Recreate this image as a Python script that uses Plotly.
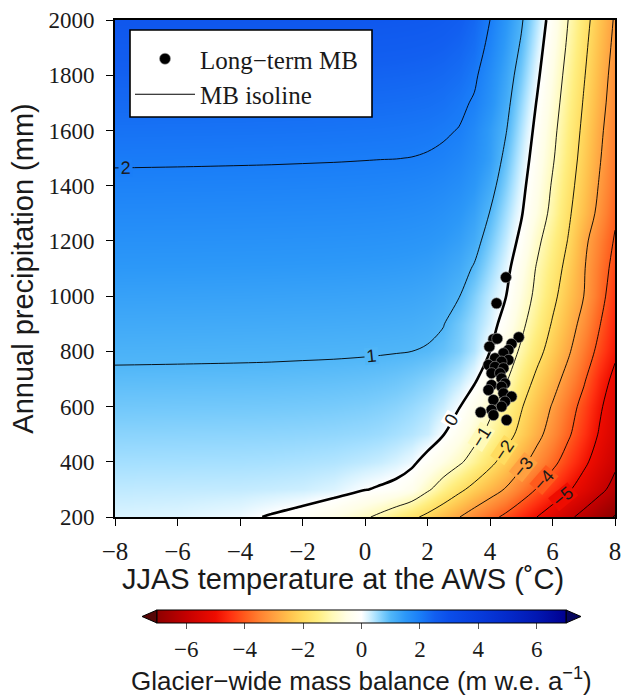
import math
import plotly.graph_objects as go

# ---- grid of the mass-balance sensitivity field ----
temperature = [-8, -6, -4, -3, -2, -1, 0, 0.5, 1, 1.5, 2, 2.5, 3, 3.5, 4,
               4.5, 5, 5.5, 6, 6.5, 7, 7.5, 8]
precipitation = [200, 300, 400, 500, 600, 700, 800, 900, 1000, 1100, 1200,
                 1300, 1400, 1500, 1600, 1700, 1800, 1900, 2000]

# glacier-wide mass balance (m w.e. a-1), one row per precipitation level
mass_balance = [
    [0.23, 0.20, 0.10, -0.04, -0.20, -0.48, -0.90, -1.17, -1.50, -1.83, -2.19, -2.58, -2.97, -3.38, -3.77, -4.16, -4.58, -5.00, -5.42, -5.83, -6.25, -6.65, -7.05],
    [0.37, 0.36, 0.35, 0.33, 0.30, 0.22, 0.02, -0.06, -0.15, -0.37, -0.89, -1.36, -1.82, -2.24, -2.64, -3.05, -3.55, -4.04, -4.48, -4.91, -5.35, -5.80, -6.25],
    [0.51, 0.505, 0.50, 0.49, 0.47, 0.44, 0.37, 0.32, 0.24, 0.11, -0.20, -0.53, -0.87, -1.30, -1.80, -2.30, -2.80, -3.30, -3.80, -4.32, -4.84, -5.35, -5.85],
    [0.65, 0.645, 0.64, 0.635, 0.625, 0.61, 0.58, 0.55, 0.50, 0.43, 0.32, 0.03, -0.36, -0.76, -1.20, -1.70, -2.22, -2.78, -3.33, -3.89, -4.47, -5.06, -5.60],
    [0.79, 0.785, 0.78, 0.775, 0.765, 0.75, 0.72, 0.69, 0.65, 0.58, 0.48, 0.32, 0.04, -0.40, -0.83, -1.35, -1.94, -2.50, -3.06, -3.65, -4.25, -4.88, -5.45],
    [0.93, 0.925, 0.92, 0.915, 0.905, 0.895, 0.875, 0.855, 0.825, 0.77, 0.69, 0.57, 0.38, 0.10, -0.40, -0.90, -1.53, -2.16, -2.68, -3.27, -3.90, -4.60, -5.20],
    [1.07, 1.065, 1.058, 1.054, 1.048, 1.042, 1.032, 1.025, 1.015, 1.00, 0.965, 0.88, 0.72, 0.45, 0.00, -0.55, -1.12, -1.75, -2.33, -2.89, -3.57, -4.20, -4.85],
    [1.21, 1.205, 1.198, 1.194, 1.188, 1.182, 1.172, 1.165, 1.155, 1.14, 1.10, 1.02, 0.80, 0.55, 0.24, -0.24, -0.82, -1.44, -2.06, -2.63, -3.26, -3.95, -4.65],
    [1.35, 1.345, 1.338, 1.334, 1.328, 1.322, 1.312, 1.305, 1.295, 1.28, 1.245, 1.17, 1.02, 0.71, 0.36, 0.02, -0.58, -1.19, -1.81, -2.41, -3.00, -3.70, -4.45],
    [1.49, 1.485, 1.478, 1.474, 1.468, 1.462, 1.452, 1.445, 1.435, 1.42, 1.39, 1.32, 1.20, 0.95, 0.56, 0.17, -0.38, -1.06, -1.63, -2.23, -2.94, -3.60, -4.25],
    [1.63, 1.625, 1.618, 1.614, 1.608, 1.602, 1.592, 1.585, 1.575, 1.56, 1.535, 1.48, 1.38, 1.18, 0.77, 0.34, -0.14, -0.83, -1.44, -2.03, -2.82, -3.45, -4.07],
    [1.77, 1.765, 1.758, 1.754, 1.748, 1.742, 1.732, 1.725, 1.715, 1.70, 1.675, 1.625, 1.53, 1.35, 0.98, 0.51, 0.05, -0.56, -1.20, -1.87, -2.53, -3.19, -3.89],
    [1.91, 1.905, 1.898, 1.894, 1.888, 1.882, 1.872, 1.865, 1.855, 1.84, 1.815, 1.77, 1.69, 1.52, 1.20, 0.69, 0.18, -0.42, -1.07, -1.73, -2.39, -3.05, -3.73],
    [2.05, 2.045, 2.038, 2.034, 2.028, 2.022, 2.013, 2.008, 2.005, 1.995, 1.97, 1.93, 1.84, 1.67, 1.40, 0.87, 0.31, -0.28, -0.92, -1.59, -2.27, -2.93, -3.60],
    [2.19, 2.185, 2.178, 2.174, 2.168, 2.16, 2.15, 2.143, 2.134, 2.12, 2.10, 2.05, 1.985, 1.78, 1.44, 1.04, 0.45, -0.16, -0.81, -1.48, -2.16, -2.83, -3.49],
    [2.33, 2.325, 2.318, 2.314, 2.308, 2.30, 2.29, 2.283, 2.274, 2.26, 2.24, 2.20, 2.10, 1.95, 1.62, 1.17, 0.60, -0.03, -0.68, -1.36, -2.05, -2.71, -3.38],
    [2.47, 2.465, 2.458, 2.454, 2.448, 2.44, 2.43, 2.423, 2.414, 2.40, 2.38, 2.34, 2.26, 2.08, 1.72, 1.28, 0.77, 0.12, -0.55, -1.24, -1.94, -2.61, -3.29],
    [2.61, 2.605, 2.598, 2.594, 2.588, 2.58, 2.57, 2.563, 2.554, 2.54, 2.52, 2.48, 2.40, 2.24, 1.87, 1.41, 0.93, 0.27, -0.42, -1.11, -1.83, -2.51, -3.18],
    [2.75, 2.745, 2.738, 2.734, 2.728, 2.72, 2.71, 2.703, 2.694, 2.68, 2.66, 2.62, 2.54, 2.36, 2.00, 1.53, 1.07, 0.42, -0.28, -1.00, -1.71, -2.41, -3.08],
]

# long-term observed mass balance: summer temperature vs annual precipitation
obs_temperature = [4.51, 4.21, 4.92, 4.11, 4.23, 3.98, 4.69, 4.59, 4.43, 4.16,
                   4.59, 3.95, 4.37, 4.16, 4.43, 4.05, 4.32, 4.37, 4.48, 4.05,
                   3.95, 4.37, 4.43, 4.69, 4.11, 4.48, 4.37, 4.05, 3.70, 4.11,
                   4.53]
obs_precipitation = [1068, 974, 851, 844, 846, 817, 827, 805, 793, 775,
                     769, 751, 763, 744, 739, 721, 721, 702, 684, 678,
                     660, 672, 648, 636, 624, 618, 600, 588, 579, 569,
                     551]

# isoline labels: level, and where along the line the label sits
# ("T" = at this temperature, "P" = at this precipitation)
label_levels = [2, 1, 0, -1, -2, -3, -4, -5]
label_along = ["T", "T", "P", "P", "P", "P", "P", "P"]
label_at = [-7.66, 0.22, 551, 491, 443, 382, 334, 274]

# diverging colour scale (value, colour), red = mass loss, blue = gain
scale_values = [-7, -6, -5, -4.5, -4, -3.5, -3, -2.5, -2, -1.5, -1, -0.5, 0,
                0.25, 0.5, 0.75, 1, 1.5, 2, 2.5, 3, 4, 5, 6, 7]
scale_colors = ["#8e0000", "#c40000", "#ee0c00", "#ff3010", "#ff5a1c",
                "#ff8030", "#ffa040", "#ffc04c", "#ffdc60", "#ffee80",
                "#fffab8", "#fffee6", "#ffffff", "#d6f2ff", "#a6e0ff",
                "#78cbfb", "#50b6f8", "#2c98f8", "#1a7ef8", "#125ff0",
                "#0b4eea", "#073cdc", "#042aca", "#0218b2", "#000090"]
cb_ticks = [-6, -4, -2, 0, 2, 4, 6]
x_ticks = [-8, -6, -4, -2, 0, 2, 4, 6, 8]
y_ticks = [200, 400, 600, 800, 1000, 1200, 1400, 1600, 1800, 2000]

zmin, zmax = scale_values[0], scale_values[-1]
colorscale = [[(v - zmin) / (zmax - zmin), c] for v, c in zip(scale_values, scale_colors)]


def scale_color(v):
    """Colour of the scale at value v (linear between the stops)."""
    for (v0, c0), (v1, c1) in zip(zip(scale_values, scale_colors),
                                  zip(scale_values[1:], scale_colors[1:])):
        if v0 <= v <= v1:
            f = (v - v0) / (v1 - v0)
            a = [int(c0[i:i + 2], 16) for i in (1, 3, 5)]
            b = [int(c1[i:i + 2], 16) for i in (1, 3, 5)]
            return "rgb({},{},{})".format(*[round(p + (q - p) * f) for p, q in zip(a, b)])
    return scale_colors[0] if v < zmin else scale_colors[-1]


def signed(v):
    return str(v).replace("-", "\u2212")


def _lerp_index(axis, v):
    v = min(max(v, axis[0]), axis[-1])
    for i in range(len(axis) - 1):
        if axis[i] <= v <= axis[i + 1]:
            return i, (v - axis[i]) / (axis[i + 1] - axis[i])
    return len(axis) - 2, 1.0


def crossing_temperature(level, p):
    """Temperature where the isoline `level` crosses precipitation p."""
    i, f = _lerp_index(precipitation, p)
    row = [a + (b - a) * f for a, b in zip(mass_balance[i], mass_balance[i + 1])]
    for j in range(len(row) - 1):
        if (row[j] - level) * (row[j + 1] - level) <= 0 and row[j] != row[j + 1]:
            return temperature[j] + (level - row[j]) / (row[j + 1] - row[j]) * (temperature[j + 1] - temperature[j])
    return None


def crossing_precipitation(level, t):
    """Precipitation where the isoline `level` crosses temperature t."""
    j, f = _lerp_index(temperature, t)
    col = [r[j] + (r[j + 1] - r[j]) * f for r in mass_balance]
    for i in range(len(col) - 1):
        if (col[i] - level) * (col[i + 1] - level) <= 0 and col[i] != col[i + 1]:
            return precipitation[i] + (level - col[i]) / (col[i + 1] - col[i]) * (precipitation[i + 1] - precipitation[i])
    return None


# ---- page geometry (pixels) ----
W, H = 622, 697
ML, MR, MT, MB = 115, 7, 20, 180
PW, PH = W - ML - MR, H - MT - MB
x_per_deg = PW / 16.0
y_per_mm = PH / 1800.0
cb_left, cb_right, cb_top, cb_thick = 157, 566, 610, 13
legend_box = (130, 30, 372, 117)


def px(x):
    return (x - ML) / PW


def py(y):
    return (H - MB - y) / PH


serif = "Liberation Serif"
sans = "Liberation Sans"
ink = "#1a1a1a"

fig = go.Figure()

fig.add_trace(go.Heatmap(
    x=temperature, y=precipitation, z=mass_balance,
    zmin=zmin, zmax=zmax, colorscale=colorscale, zsmooth="best",
    hoverinfo="skip", showlegend=False,
    colorbar=dict(
        orientation="h", lenmode="pixels", len=cb_right - cb_left,
        thickness=cb_thick, x=px((cb_left + cb_right) / 2), xanchor="center",
        y=py(cb_top), yanchor="top", xpad=0, ypad=0,
        outlinecolor="black", outlinewidth=1,
        tickvals=cb_ticks, ticktext=[signed(t) for t in cb_ticks],
        ticks="outside", ticklen=6, tickcolor="#555", tickwidth=1,
        tickfont=dict(family=serif, size=23, color=ink),
    ),
))

black = [[0, "black"], [1, "black"]]
for lo, hi, width in [(-9, -1, 0.9), (0, 0, 2.6), (1, 2, 0.9)]:
    fig.add_trace(go.Contour(
        x=temperature, y=precipitation, z=mass_balance,
        autocontour=False,
        contours=dict(start=lo, end=hi, size=1, coloring="lines", showlabels=False),
        colorscale=black, showscale=False,
        line=dict(width=width, smoothing=1.0),
        hoverinfo="skip", showlegend=False,
    ))

# isoline labels sit on their line, masking it with the line's own fill colour
label_size = 18
for lev, along, at in zip(label_levels, label_along, label_at):
    if along == "T":
        t, p = at, crossing_precipitation(lev, at)
        t1, t2 = max(at - 0.4, temperature[0]), min(at + 0.4, temperature[-1])
        p1, p2 = crossing_precipitation(lev, t1), crossing_precipitation(lev, t2)
        dx, dy = (t2 - t1) * x_per_deg, -(p2 - p1) * y_per_mm
    else:
        p, t = at, crossing_temperature(lev, at)
        t1, t2 = crossing_temperature(lev, at - 30), crossing_temperature(lev, at + 30)
        dx, dy = (t2 - t1) * x_per_deg, -60 * y_per_mm
    angle = math.degrees(math.atan2(dy, dx))
    text = signed(lev)
    box_w = label_size * (0.58 * (text[0] == "\u2212") + 0.56) + 3
    fig.add_annotation(x=t, y=p, xref="x", yref="y", text=text,
                       showarrow=False, textangle=angle, bgcolor=scale_color(lev),
                       borderpad=0, width=box_w, height=label_size - 2,
                       font=dict(family=sans, size=label_size, color=ink))

fig.add_trace(go.Scatter(
    x=obs_temperature, y=obs_precipitation, mode="markers",
    name="Long\u2212term MB",
    marker=dict(color="black", size=11, line=dict(color="#9a9a9a", width=0.6)),
))
fig.add_trace(go.Scatter(
    x=[None], y=[None], mode="lines", name="MB isoline",
    line=dict(color="black", width=1),
))

# legend frame
fig.add_shape(type="rect", xref="paper", yref="paper", layer="above",
              x0=px(legend_box[0]), x1=px(legend_box[2]),
              y0=py(legend_box[3]), y1=py(legend_box[1]),
              fillcolor="white", line=dict(color="black", width=1.6))

# extension triangles at both ends of the colour bar
cb_mid = cb_top + cb_thick / 2
for base, tip, col in [(cb_left, cb_left - 15, "#560606"), (cb_right, cb_right + 15, "#07075e")]:
    path = "M {} {} L {} {} L {} {} Z".format(
        px(base), py(cb_top), px(tip), py(cb_mid), px(base), py(cb_top + cb_thick))
    fig.add_shape(type="path", path=path, xref="paper", yref="paper",
                  fillcolor=col, line=dict(color="black", width=1))

axis_common = dict(
    showline=True, linecolor="black", linewidth=1.6, mirror=True,
    ticks="outside", ticklen=7, tickwidth=1.2, tickcolor="black",
    showgrid=False, zeroline=False,
)
fig.update_xaxes(range=[-8, 8], tickvals=x_ticks,
                 ticktext=[signed(t) for t in x_ticks], ticklabelstandoff=4,
                 tickfont=dict(family=serif, size=25, color=ink),
                 **axis_common)
fig.update_yaxes(range=[200, 2000], tickvals=y_ticks, ticklabelstandoff=7,
                 tickfont=dict(family=serif, size=23, color=ink),
                 title=dict(text="Annual precipitation (mm)",
                            font=dict(family=sans, size=29, color=ink), standoff=6),
                 **axis_common)

fig.add_annotation(text="JJAS temperature at the AWS (\u02daC)",
                   xref="paper", yref="paper", x=px(343), y=py(579),
                   xanchor="center", yanchor="middle", showarrow=False,
                   font=dict(family=sans, size=29, color=ink))
fig.add_annotation(text="Glacier\u2212wide mass balance (m w.e. a<sup>\u22121</sup>)",
                   xref="paper", yref="paper", x=px((cb_left + cb_right) / 2), y=py(679),
                   xanchor="center", yanchor="middle", showarrow=False,
                   font=dict(family=sans, size=26, color=ink))

fig.update_layout(
    width=W, height=H,
    margin=dict(l=ML, r=MR, t=MT, b=MB, autoexpand=False),
    paper_bgcolor="white", plot_bgcolor="white",
    legend=dict(x=px(130), y=py(36), xanchor="left", yanchor="top",
                bgcolor="rgba(0,0,0,0)", borderwidth=0,
                font=dict(family=serif, size=25, color=ink),
                itemwidth=60, tracegroupgap=0),
)

fig.write_html("out.html")
